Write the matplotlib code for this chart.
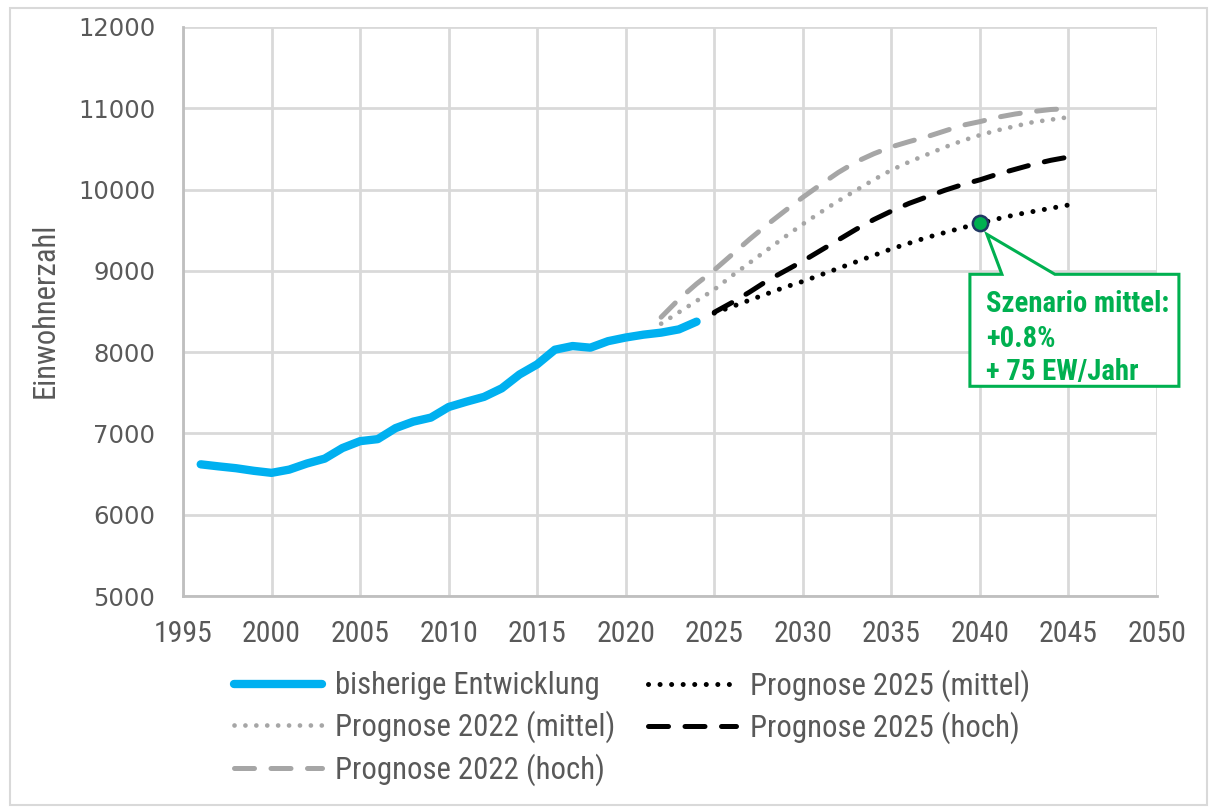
import matplotlib
matplotlib.use("Agg")
import matplotlib.pyplot as plt
import matplotlib.transforms as mtransforms
from matplotlib.patches import Polygon, Rectangle
from matplotlib import font_manager
from matplotlib.font_manager import FontProperties
from matplotlib.textpath import TextToPath

# ---------------- data ----------------
years_hist = list(range(1996, 2025))
pop_hist = [6620, 6595, 6572, 6540, 6515, 6555, 6630, 6690, 6820, 6905,
            6930, 7065, 7145, 7195, 7325, 7390, 7450, 7555, 7725, 7850,
            8030, 8075, 8055, 8135, 8180, 8215, 8240, 8280, 8375]

years_p22 = list(range(2022, 2046))
p22_mittel = [8350, 8490, 8630, 8770, 8940, 9100, 9260, 9420, 9575, 9720,
              9860, 9990, 10120, 10240, 10340, 10430, 10520, 10600, 10670,
              10730, 10780, 10830, 10860, 10890]
p22_hoch = [8430, 8650, 8840, 9010, 9200, 9390, 9570, 9740, 9905, 10060,
            10210, 10340, 10440, 10525, 10590, 10650, 10720, 10790, 10836,
            10890, 10930, 10960, 10985, 10995]

years_p25 = list(range(2025, 2046))
p25_mittel = [8480, 8560, 8640, 8720, 8800, 8870, 8950, 9030, 9110, 9190,
              9270, 9340, 9410, 9470, 9530, 9585, 9640, 9690, 9730, 9770, 9810]
p25_hoch = [8490, 8610, 8740, 8880, 9000, 9120, 9250, 9380, 9510, 9630,
            9735, 9830, 9910, 9990, 10060, 10120, 10190, 10250, 10310, 10360, 10400]

marker_year = 2040
marker_value = 9585

x_ticks = list(range(1995, 2051, 5))
y_ticks = list(range(5000, 12001, 1000))

labels = ["bisherige Entwicklung", "Prognose 2022 (mittel)", "Prognose 2022 (hoch)",
          "Prognose 2025 (mittel)", "Prognose 2025 (hoch)"]
ylabel = "Einwohnerzahl"
callout_lines = ["Szenario mittel:", "+0.8%", "+ 75 EW/Jahr"]

# ---------------- fonts ----------------
BAD = ("italic", "oblique", "semi", "extra", "light", "medium", "black", "thin", "heavy")


def find_narrow(bold):
    prefs = ["liberationsansnarrow", "robotocondensed", "dejavusanscondensed",
             "notosans-condensed", "notosanscondensed", "opensans-condensed",
             "opensanscondensed", "condensed", "narrow"]
    cands = []
    for f in font_manager.fontManager.ttflist:
        fn = f.fname.lower().replace(" ", "").replace("_", "")
        base = fn.rsplit("/", 1)[-1]
        if not ("condensed" in base or "narrow" in base):
            continue
        if any(b in base for b in BAD):
            continue
        isbold = "bold" in base
        if isbold != bold:
            continue
        rank = next((i for i, p in enumerate(prefs) if p in base), len(prefs))
        cands.append((rank, f.fname))
    if cands:
        cands.sort()
        return cands[0][1]
    return None


nf = find_narrow(False)
nb = find_narrow(True)
FP_N = FontProperties(fname=nf) if nf else FontProperties(family="Roboto")
FP_B = FontProperties(fname=nb, weight="bold") if nb else FontProperties(family="Roboto", weight="bold")
FP_Y = FontProperties(family="DejaVu Sans")

_t2p = TextToPath()


def fit(fp, text, target_px, max_size=40):
    p = fp.copy()
    p.set_size(10)
    w, h, d = _t2p.get_text_width_height_descent(text, p, ismath=False)
    size = 10 * target_px / (w * 100 / 72)
    q = fp.copy()
    q.set_size(min(size, max_size))
    return q


fp_xt = fit(FP_N, "1995", 59)
fp_leg = fit(FP_N, "bisherige Entwicklung", 265)
fp_yl = fit(FP_N, "Einwohnerzahl", 175)
fp_co = fit(FP_B, "Szenario mittel:", 183)
fp_yt = fit(FP_Y, "12000", 77)

# ---------------- colours ----------------
BLUE = "#00B0F0"
GRAY = "#A6A6A6"
BLACK = "#000000"
GREEN = "#00B050"
TXT = "#595959"
GRID = "#D9D9D9"
SPINE = "#BFBFBF"

fig = plt.figure(figsize=(12.09, 8.07), dpi=100)
ax = fig.add_axes([183 / 1209, 1 - 596 / 807, (1157 - 183) / 1209, (596 - 27) / 807])

dot = (0, (0.01, 2.3))
dash = (0, (4, 3.3))
ax.plot(years_hist, pop_hist, color=BLUE, lw=6, solid_capstyle="round",
        solid_joinstyle="round", label=labels[0], zorder=5)
ax.plot(years_p22, p22_mittel, color=GRAY, lw=3.4, ls=dot, dash_capstyle="round",
        label=labels[1], zorder=3)
ax.plot(years_p22, p22_hoch, color=GRAY, lw=3.6, ls=dash, dash_capstyle="round",
        label=labels[2], zorder=3)
ax.plot(years_p25, p25_mittel, color=BLACK, lw=3.6, ls=dot, dash_capstyle="round",
        label=labels[3], zorder=4)
ax.plot(years_p25, p25_hoch, color=BLACK, lw=3.6, ls=dash, dash_capstyle="round",
        label=labels[4], zorder=4)
ax.plot([marker_year], [marker_value], marker="o", ms=11, mfc=GREEN, mec="#203864",
        mew=1.8, ls="none", zorder=7)

ax.set_xlim(1995, 2050)
ax.set_ylim(5000, 12000)
ax.set_xticks(x_ticks)
ax.set_yticks(y_ticks)
ax.grid(True, color=GRID, lw=2)
ax.set_axisbelow(True)
for s in ["top", "right"]:
    ax.spines[s].set_visible(False)
for s in ["left", "bottom"]:
    ax.spines[s].set_color(SPINE)
    ax.spines[s].set_linewidth(2)
ax.tick_params(length=0)
ax.tick_params(axis="y", pad=20, labelcolor=TXT)
ax.tick_params(axis="x", pad=17, labelcolor=TXT)
for t in ax.get_xticklabels():
    t.set_fontproperties(fp_xt)
for t in ax.get_yticklabels():
    t.set_fontproperties(fp_yt)
ax.set_ylabel(ylabel, fontproperties=fp_yl, color=TXT)
ax.yaxis.set_label_coords((60 - 183) / 974, (596 - 310) / 569)

# legend
handles, labs = ax.get_legend_handles_labels()
leg = fig.legend(handles, labs, ncol=2, loc="upper left",
                 bbox_to_anchor=(234 / 1209, 1 - 669 / 807), frameon=False,
                 prop=fp_leg, handlelength=2.85,
                 handletextpad=0.45, columnspacing=1.05, labelspacing=0.33,
                 borderaxespad=0, borderpad=0)
for t in leg.get_texts():
    t.set_color(TXT)

# callout (offsets in pixels relative to marker)
sc = fig.dpi / 100
trans = mtransforms.Affine2D().scale(sc) + mtransforms.ScaledTranslation(
    marker_year, marker_value, ax.transData)
verts = [(-10, -51), (22, -51), (7, -11), (75, -51), (199, -51), (199, -163), (-10, -163)]
poly = Polygon(verts, closed=True, transform=trans, facecolor="white",
               edgecolor=GREEN, lw=2.2, clip_on=False, zorder=6)
ax.add_patch(poly)
ys = [-81, -116, -149]
for line, yoff in zip(callout_lines, ys):
    ax.annotate(line, xy=(marker_year, marker_value), xycoords="data",
                xytext=(6 * 0.72, yoff * 0.72), textcoords="offset points",
                ha="left", va="center", color=GREEN,
                fontproperties=fp_co, zorder=8, annotation_clip=False)

# figure border
fig.patches.append(Rectangle((10 / 1209, 2 / 807), 1197 / 1209, 797 / 807,
                             transform=fig.transFigure, fill=False,
                             edgecolor=GRID, lw=1.5))

fig.savefig("out.png", dpi=100)
